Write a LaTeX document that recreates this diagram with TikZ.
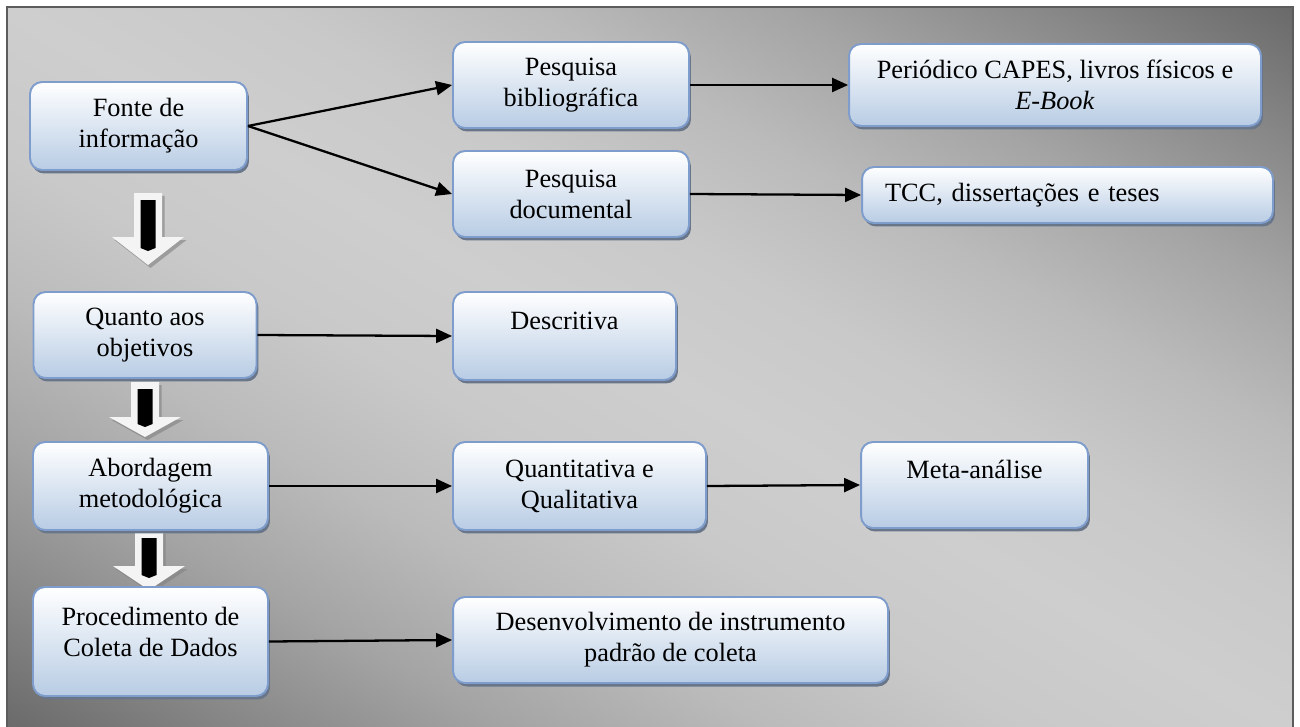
\documentclass[tikz,border=0pt]{standalone}
\usepackage{fontspec}
\setmainfont{Liberation Serif}
\usetikzlibrary{arrows.meta}
\usetikzlibrary{shadows}

\definecolor{boxblue}{RGB}{184,204,228}
\definecolor{boxline}{RGB}{126,157,204}
\definecolor{boxshadow}{RGB}{105,118,138}
\definecolor{bgdark}{RGB}{104,104,104}
\definecolor{bglight}{RGB}{206,206,206}
\definecolor{frameline}{RGB}{92,92,92}
\definecolor{arrowfill}{RGB}{244,244,244}
\colorlet{bgA}{bglight!31!bgdark}
\colorlet{bgB}{bglight!59!bgdark}
\colorlet{bgC}{bglight!81!bgdark}
\colorlet{bgD}{bglight!95!bgdark}

\pgfdeclareverticalshading{bgshade}{100bp}{color(0bp)=(bgdark); color(25bp)=(bgdark);
    color(30bp)=(bgA); color(35bp)=(bgB); color(40bp)=(bgC); color(45bp)=(bgD);
    color(50bp)=(bglight); color(55bp)=(bgD); color(60bp)=(bgC); color(65bp)=(bgB);
    color(70bp)=(bgA); color(75bp)=(bgdark); color(100bp)=(bgdark)}

\tikzset{
    box/.style={rectangle,rounded corners=0.24cm,draw=boxline,line width=1.1pt,
        top color=white,bottom color=boxblue,align=center,inner sep=2pt,
        font=\fontsize{15}{17.6}\selectfont,
        drop shadow={shadow xshift=0.04cm,shadow yshift=-0.07cm,fill=boxshadow,opacity=1}},
    link/.style={->,line width=1.3pt,>={Triangle[length=0.32cm,width=0.28cm]}},
    bigarrow/.style={fill=arrowfill,
        drop shadow={shadow xshift=0.05cm,shadow yshift=-0.06cm,fill=gray,opacity=0.6}}
}

\begin{document}
\begin{tikzpicture}[x=0.02cm,y=-0.02cm]
    \useasboundingbox (0,0) rectangle (1300,726);

    % Background: diagonal gradient
    \begin{scope}
        \clip (7,7) rectangle (1293,730);
        \begin{scope}[transform canvas={shift={(650,368.5)},rotate=-29.3,scale=10}]
            \shade[shading=bgshade] (-86,-63.5) rectangle (86,63.5);
        \end{scope}
    \end{scope}
    \draw[frameline,line width=1.2pt] (7,7) rectangle (1293,730);

    % Block arrows between the steps on the left:
    \foreach \cx/\ty/\hy/\by in {148/193/237/265, 145/382/417/437, 149/531/566/590}{
        \path[bigarrow] (\cx-14,\ty) -- (\cx+14,\ty) -- (\cx+14,\hy) -- (\cx+36,\hy)
            -- (\cx,\by) -- (\cx-36,\hy) -- (\cx-14,\hy) -- cycle;
        \fill[black] (\cx-7.5,\ty+7) -- (\cx+7.5,\ty+7) -- ({\cx+7.5},{(\hy+\by)/2-3})
            -- ({\cx},{(\hy+\by)/2}) -- ({\cx-7.5},{(\hy+\by)/2-3}) -- cycle;
    }

    % Steps:
    \node[box,minimum width=4.34cm,minimum height=1.76cm] (src) at (138.5,126) {Fonte de\\informação};
    \node[box,minimum width=4.46cm,minimum height=1.72cm] (obj) at (145,335) {Quanto aos\\objetivos};
    \node[box,minimum width=4.70cm,minimum height=1.76cm] (abo) at (150.5,486) {Abordagem\\metodológica};
    \node[box,minimum width=4.70cm,minimum height=2.18cm] (proc) at (150.5,641.5) {Procedimento de\\Coleta de Dados\\[-7pt]~};

    % Second column:
    \node[box,minimum width=4.72cm,minimum height=1.72cm] (bib) at (571,85) {Pesquisa\\bibliográfica};
    \node[box,minimum width=4.72cm,minimum height=1.72cm] (doc) at (571,194) {Pesquisa\\documental};
    \node[box,minimum width=4.46cm,minimum height=1.76cm] (desc) at (564.5,336) {Descritiva\\~};
    \node[box,minimum width=5.06cm,minimum height=1.76cm] (quant) at (579.5,486) {Quantitativa e\\Qualitativa};
    \node[box,minimum width=8.70cm,minimum height=1.72cm] (dev) at (670.5,640) {Desenvolvimento de instrumento\\padrão de coleta};

    % Third column:
    \node[box,minimum width=8.24cm,minimum height=1.64cm] (per) at (1055,85) {Periódico CAPES, livros físicos e\\\textit{E-Book}};
    \node[box,align=left,text width=7.3cm,inner xsep=0.46cm,minimum height=1.12cm] (tcc) at (1067.5,195) {TCC, dissertações e teses};
    \node[box,minimum width=4.54cm,minimum height=1.72cm] (meta) at (974.5,485) {Meta-análise\\~};

    % Links:
    \draw[link] (src.east) -- (bib.west);
    \draw[link] (src.east) -- (doc.west);
    \draw[link] (bib.east) -- (per.west);
    \draw[link] (doc.east) -- (tcc.west);
    \draw[link] (obj.east) -- (desc.west);
    \draw[link] (abo.east) -- (quant.west);
    \draw[link] (quant.east) -- (meta.west);
    \draw[link] (proc.east) -- (dev.west);
\end{tikzpicture}
\end{document}
